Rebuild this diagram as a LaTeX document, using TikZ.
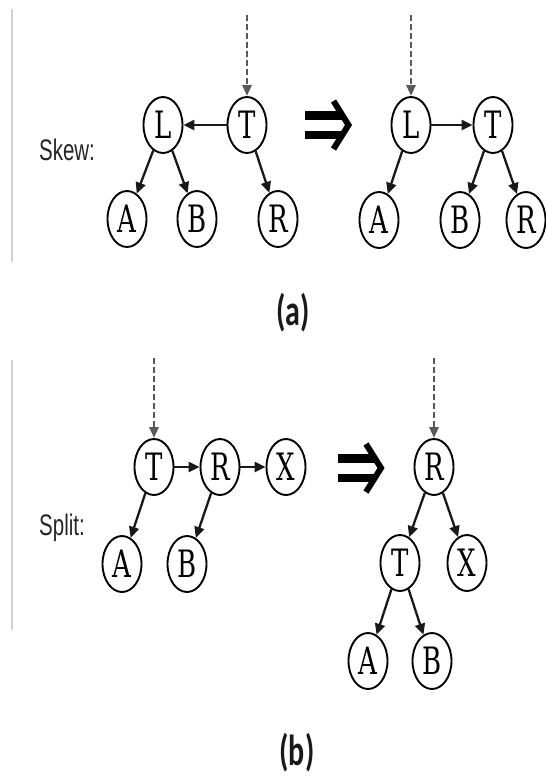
\documentclass[tikz,border=0pt]{standalone}
\usepackage{fontspec}
\setmainfont{DejaVu Serif}
\newfontfamily\labelfont{Liberation Sans}
\newfontfamily\capfont{Carlito}
\usetikzlibrary{shapes.geometric,arrows.meta}

% everything in the drawing is stretched vertically by the same factor
\newcommand{\tall}[1]{\scalebox{1}[1.45]{#1}}

\tikzset{
  treenode/.style={ellipse, draw=black, line width=1.9pt, inner sep=0pt,
    minimum width=39pt, minimum height=56pt, font=\fontsize{26}{26}\selectfont},
  link/.style={-{Triangle[length=11pt,width=10pt]}, line width=2.3pt, draw=black!90},
  parentlink/.style={-{Triangle[length=11pt,width=9pt]}, line width=2.8pt,
    draw=black!65, dash pattern=on 6pt off 3pt},
  sidelabel/.style={font=\labelfont\fontsize{20.5}{20.5}\selectfont, text=black!85},
  caption/.style={font=\capfont\bfseries\fontsize{30}{30}\selectfont, text=black!90},
  margin/.style={draw={rgb,255:red,198;green,213;blue,230}, line width=2pt},
  pics/implies/.style={code={
    \draw[line width=8.5pt] (-22.5,-9.75) -- (15,-9.75);
    \draw[line width=8.5pt] (-22.5,9.75) -- (15,9.75);
    \draw[line width=6pt, miter limit=10] (6,-24) -- (21,0) -- (6,24);
  }}
}

\begin{document}
\begin{tikzpicture}[x=1pt,y=-1pt]
  \path[fill=white] (0,0) rectangle (546,780);
  \useasboundingbox (0,0) rectangle (546,780);

  % ---------- skew ----------
  \draw[margin] (12,9) -- (12,262);
  \node[sidelabel] (skewlbl) at (67,150) {\tall{Skew:}};

  \node[treenode] (sL) at (163,125) {\tall{L}};
  \node[treenode] (sT) at (247,125) {\tall{T}};
  \node[treenode] (sA) at (127,219) {\tall{A}};
  \node[treenode] (sB) at (197,219) {\tall{B}};
  \node[treenode] (sR) at (278,219) {\tall{R}};
  \coordinate (sP) at (247,15);
  \draw[parentlink] (sP) -- (sT);
  \draw[link] (sT) -- (sL);
  \draw[link] (sL) -- (sA);
  \draw[link] (sL) -- (sB);
  \draw[link] (sT) -- (sR);

  \pic at (327.5,125) {implies};

  \node[treenode] (tL) at (411,125) {\tall{L}};
  \node[treenode] (tT) at (493,125) {\tall{T}};
  \node[treenode] (tA) at (379,220) {\tall{A}};
  \node[treenode] (tB) at (460,220) {\tall{B}};
  \node[treenode] (tR) at (526,220) {\tall{R}};
  \coordinate (tP) at (411,15);
  \draw[parentlink] (tP) -- (tL);
  \draw[link] (tL) -- (tT);
  \draw[link] (tL) -- (tA);
  \draw[link] (tT) -- (tB);
  \draw[link] (tT) -- (tR);

  \node[caption] (capa) at (293,313) {\tall{(a)}};

  % ---------- split ----------
  \draw[margin] (12,360) -- (12,630);
  \node[sidelabel] (splitlbl) at (62,528) {\tall{Split:}};

  \node[treenode] (pT) at (154,467) {\tall{T}};
  \node[treenode] (pR) at (220,467) {\tall{R}};
  \node[treenode] (pX) at (286,467) {\tall{X}};
  \node[treenode] (pA) at (122,564) {\tall{A}};
  \node[treenode] (pB) at (187,564) {\tall{B}};
  \coordinate (pP) at (154,358);
  \draw[parentlink] (pP) -- (pT);
  \draw[link] (pT) -- (pR);
  \draw[link] (pR) -- (pX);
  \draw[link] (pT) -- (pA);
  \draw[link] (pR) -- (pB);

  \pic at (360,468) {implies};

  \node[treenode] (qR) at (434,467) {\tall{R}};
  \node[treenode] (qT) at (400,563) {\tall{T}};
  \node[treenode] (qX) at (467,563) {\tall{X}};
  \node[treenode] (qA) at (368,661) {\tall{A}};
  \node[treenode] (qB) at (432,661) {\tall{B}};
  \coordinate (qP) at (434,358);
  \draw[parentlink] (qP) -- (qR);
  \draw[link] (qR) -- (qT);
  \draw[link] (qR) -- (qX);
  \draw[link] (qT) -- (qA);
  \draw[link] (qT) -- (qB);

  \node[caption] (capb) at (297,753) {\tall{(b)}};
\end{tikzpicture}
\end{document}
